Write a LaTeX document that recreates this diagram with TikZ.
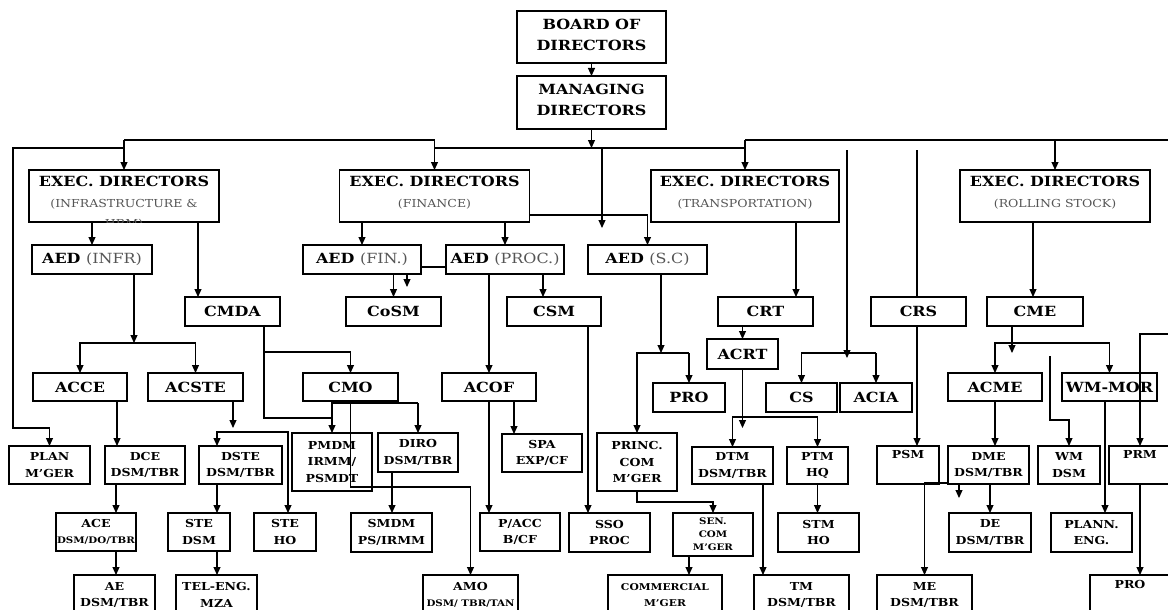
\documentclass[tikz,border=0pt]{standalone}
\usepackage{fontspec}
\setmainfont{DejaVu Serif}[FakeStretch=1.14]
\usetikzlibrary{arrows.meta}
\definecolor{subgray}{HTML}{555555}
\newcommand\subt[1]{{\fontsize{11}{21}\selectfont\mdseries\color{subgray}#1}}
\newcommand\aedp[1]{{\mdseries\color{subgray}#1}}
\newcommand\tnyline[1]{{\fontsize{9}{13}\selectfont#1}}
\begin{document}
\begin{tikzpicture}[x=1pt,y=-1pt,
    box/.style={draw,line width=1.1pt,inner sep=0pt,outer sep=0pt,align=center},
    sz/.style 2 args={minimum width=#1,minimum height=#2},
    big/.style={box,font=\fontsize{14}{21}\selectfont\bfseries},
    sml/.style={box,font=\fontsize{11}{16.5}\selectfont\bfseries},
    tny/.style={box,font=\fontsize{9}{13}\selectfont\bfseries},
    exec/.style={big,sz={190}{52},text depth=8.5pt},
    ln/.style={line width=1.1pt},
    arr/.style={ln,-{Triangle[length=8pt,width=7pt]}}
]
\useasboundingbox (0,0) rectangle (1168,610);
\clip (0,0) rectangle (1168,610);

% top
\node[big,sz={149}{52},text depth=5pt] (board) at (591.5,37) {BOARD OF\\DIRECTORS};
\node[big,sz={149}{53},text depth=5pt] (md) at (591.5,102.5) {MANAGING\\DIRECTORS};

% executive directors
\node[exec] (exinf) at (124,196) {EXEC. DIRECTORS\\\subt{(INFRASTRUCTURE \&}};
\begin{scope}
  \clip (exinf.north west) rectangle (exinf.south east);
  \node[font=\fontsize{11}{21}\selectfont,text=subgray,inner sep=0pt] (hrm) at (124,224) {HRM)};
\end{scope}
\node[exec] (exfin) at (434.5,196) {EXEC. DIRECTORS\\\subt{(FINANCE)}};
\node[exec,sz={188}{52}] (extra) at (745,196) {EXEC. DIRECTORS\\\subt{(TRANSPORTATION)}};
\node[exec] (exrs) at (1055,196) {EXEC. DIRECTORS\\\subt{(ROLLING STOCK)}};

% AED row
\node[big,sz={120}{29}] (aedinf) at (92,259.5) {AED \aedp{(INFR)}};
\node[big,sz={118}{29}] (aedfin) at (362,259.5) {AED \aedp{(FIN.)}};
\node[big,sz={118}{29}] (aedproc) at (505,259.5) {AED \aedp{(PROC.)}};
\node[big,sz={119}{29}] (aedsc) at (647.5,259.5) {AED \aedp{(S.C)}};

% chief row
\node[big,sz={95}{29}] (cmda) at (232.5,311.5) {CMDA};
\node[big,sz={95}{29}] (cosm) at (393.5,311.5) {CoSM};
\node[big,sz={94}{29}] (csm) at (554,311.5) {CSM};
\node[big,sz={95}{29}] (crt) at (765.5,311.5) {CRT};
\node[big,sz={95}{29}] (crs) at (918.5,311.5) {CRS};
\node[big,sz={96}{29}] (cme) at (1035,311.5) {CME};
\node[big,sz={71}{30}] (acrt) at (742.5,354) {ACRT};

% assistant row
\node[big,sz={94}{28}] (acce) at (80,387) {ACCE};
\node[big,sz={95}{28}] (acste) at (195.5,387) {ACSTE};
\node[big,sz={95}{28}] (cmo) at (350.5,387) {CMO};
\node[big,sz={94}{28}] (acof) at (489,387) {ACOF};
\node[big,sz={72}{29}] (pro1) at (689,397.5) {PRO};
\node[big,sz={71}{29}] (cs) at (801.5,397.5) {CS};
\node[big,sz={72}{29}] (acia) at (876,397.5) {ACIA};
\node[big,sz={94}{28}] (acme) at (995,387) {ACME};
\node[big,sz={95}{28}] (wmmor) at (1109.5,387) {WM-MOR};

% divisional row
\node[sml,sz={81}{38}] (plan) at (49.5,465) {PLAN\\M'GER};
\node[sml,sz={80}{38}] (dce) at (145,465) {DCE\\DSM/TBR};
\node[sml,sz={83}{38}] (dste) at (240.5,465) {DSTE\\DSM/TBR};
\node[sml,sz={80}{58}] (pmdm) at (332,462) {PMDM\\IRMM/\\PSMDT};
\node[sml,sz={80}{39}] (diro) at (418,452.5) {DIRO\\DSM/TBR};
\node[sml,sz={80}{38}] (spa) at (542,453) {SPA\\EXP/CF};
\node[sml,sz={80}{58}] (princ) at (637,462) {PRINC.\\COM\\M'GER};
\node[sml,sz={81}{37}] (dtm) at (732.5,465.5) {DTM\\DSM/TBR};
\node[sml,sz={61}{37}] (ptm) at (817.5,465.5) {PTM\\HQ};
\node[sml,sz={62}{38}] (psm) at (908,465) {PSM\\\strut};
\node[sml,sz={81}{38}] (dme) at (988.5,465) {DME\\DSM/TBR};
\node[sml,sz={62}{38}] (wmdsm) at (1069,465) {WM\\DSM};
\node[sml,sz={62}{38}] (prm) at (1140,465) {PRM\\\strut};

% sub-divisional row
\node[sml,sz={80}{38}] (ace) at (96,532) {ACE\\\tnyline{DSM/DO/TBR}};
\node[sml,sz={62}{38}] (stedsm) at (199,532) {STE\\DSM};
\node[sml,sz={62}{38}] (steho) at (285,532) {STE\\HO};
\node[sml,sz={81}{39}] (smdm) at (391.5,532.5) {SMDM\\PS/IRMM};
\node[sml,sz={80}{38}] (pacc) at (520,532) {P/ACC\\B/CF};
\node[sml,sz={81}{39}] (sso) at (609.5,532.5) {SSO\\PROC};
\node[tny,sz={80}{43}] (sen) at (713,534.5) {SEN.\\COM\\M'GER};
\node[sml,sz={81}{39}] (stm) at (818.5,532.5) {STM\\HO};
\node[sml,sz={82}{39}] (de) at (990,532.5) {DE\\DSM/TBR};
\node[sml,sz={81}{39}] (plann) at (1091.5,532.5) {PLANN.\\ENG.};

% bottom row
\node[sml,sz={81}{40}] (ae) at (114.5,595) {AE\\DSM/TBR};
\node[sml,sz={81}{40}] (teleng) at (216.5,595) {TEL-ENG.\\MZA};
\node[sml,sz={95}{40}] (amo) at (470.5,595) {AMO\\\tnyline{DSM/ TBR/TAN}};
\node[sml,sz={114}{40},font=\fontsize{9.4}{16.5}\selectfont\bfseries] (comm) at (665,595) {COMMERCIAL\\M'GER};
\node[sml,sz={95}{40}] (tm) at (801.5,595) {TM\\DSM/TBR};
\node[sml,sz={95}{40}] (me) at (924.5,595) {ME\\DSM/TBR};
\node[sml,sz={80}{40}] (pro2) at (1130,595) {PRO\\\strut};

% free ends
\coordinate (busA) at (0,140);
\coordinate (busB) at (0,148);
\coordinate (lftTop) at (13,148);
\coordinate (lftBot) at (13,428);
\coordinate (rgtA) at (1180,140);
\coordinate (rgtB) at (1180,334);
\coordinate (scTop) at (602,148);
\coordinate (scTip) at (602,228);
\coordinate (csTop) at (847,150);
\coordinate (csTip) at (847,358);
\coordinate (crsTop) at (917,150);
\coordinate (finTip) at (407,287);
\coordinate (dmeTip) at (959,498);
\coordinate (wmTop) at (1050,356);

% board and buses
\draw[arr] (board) -- (md);
\draw[arr] (md) -- (md.south |- busB);
\draw[arr] (busA -| exinf.north) -- (exinf.north);
\draw[arr] (busA -| exinf.north) -- (busA -| exfin.north) -- (exfin.north);
\draw[arr] (busA -| extra.north) -- (extra.north);
\draw[arr] (busA -| exrs.north) -- (exrs.north);
\draw[ln] (busA -| extra.north) -- (rgtA);
\draw[arr] (busB -| exinf.north) -- (lftTop) -- (lftBot) -| (plan.north);
\draw[ln] (busB -| exfin.north) -- (busB -| extra.north);
\draw[arr] (scTop) -- (scTip);
\draw[arr] (csTop) -- (csTip);
\draw[ln] (crsTop) -- (crs.north -| crsTop);
\draw[arr] (crs.south -| crsTop) -- (psm.north -| crsTop);

% infrastructure
\draw[arr] (exinf.south -| aedinf.north) -- (aedinf.north);
\draw[arr] (exinf.south -| 198,0) -- (cmda.north -| 198,0);
\draw[arr] (aedinf.south -| 134,0) -- (134,343);
\draw[arr] (acste.north |- 0,343) -| (acce.north);
\draw[arr] (acste.north |- 0,343) -- (acste.north);
\draw[arr] (acce.south -| 117,0) -- (dce.north -| 117,0);
\draw[arr] (acste.south -| 233,0) -- (233,428);
\draw[arr] (217,432) -| (steho.north -| 288,0);
\draw[arr] (288,432) -| (dste.north -| 217,0);
\draw[arr] (dce.south -| 116,0) -- (ace.north -| 116,0);
\draw[arr] (ace.south -| 116,0) -- (ae.north -| 116,0);
\draw[arr] (dste.south -| 217,0) -- (stedsm.north -| 217,0);
\draw[arr] (stedsm.south -| 217,0) -- (teleng.north -| 217,0);

% CMDA and CMO
\draw[ln] (cmda.south -| 264,0) -- (264,418) -- (332,418);
\draw[arr] (264,352) -| (cmo.north);
\draw[arr] (diro.north |- 0,403) -| (pmdm.north);
\draw[arr] (diro.north |- 0,403) -- (diro.north);
\draw[arr] (cmo.south) -- (cmo.south |- 0,487) -| (amo.north);
\draw[arr] (diro.south -| 392,0) -- (smdm.north -| 392,0);

% finance
\draw[arr] (exfin.south -| aedfin.north) -- (aedfin.north);
\draw[arr] (exfin.south -| aedproc.north) -- (aedproc.north);
\draw[ln] (aedfin.east |- 0,267) -- (aedproc.west |- 0,267);
\draw[arr] (aedfin.south -| cosm.north) -- (cosm.north);
\draw[arr] (aedfin.south -| finTip) -- (finTip);
\draw[arr] (aedproc.south -| 543,0) -- (csm.north -| 543,0);
\draw[arr] (aedproc.south -| acof.north) -- (acof.north);
\draw[arr] (acof.south -| 514,0) -- (spa.north -| 514,0);
\draw[arr] (acof.south) -- (pacc.north -| acof.south);
\draw[arr] (csm.south -| 588,0) -- (sso.north -| 588,0);
\draw[arr] (exfin.east |- 0,215) -| (aedsc.north);

% stores and commercial
\draw[arr] (aedsc.south -| 661,0) -- (661,353);
\draw[arr] (pro1.north |- 0,353) -| (princ.north);
\draw[arr] (pro1.north |- 0,353) -- (pro1.north);
\draw[arr] (princ.south) -- (princ.south |- 0,502) -| (sen.north);
\draw[arr] (sen.south -| 689,0) -- (comm.north -| 689,0);

% transportation
\draw[arr] (extra.south -| 796,0) -- (crt.north -| 796,0);
\draw[arr] (crt.south -| acrt.north) -- (acrt.north);
\draw[arr] (acrt.south) -- (acrt.south |- 0,428);
\draw[arr] (ptm.north |- 0,417) -| (dtm.north);
\draw[arr] (ptm.north |- 0,417) -- (ptm.north);
\draw[arr] (ptm.south) -- (stm.north -| ptm.south);
\draw[arr] (dtm.south -| 763,0) -- (tm.north -| 763,0);
\draw[arr] (acia.north |- 0,353) -| (cs.north);
\draw[arr] (acia.north |- 0,353) -- (acia.north);

% rolling stock
\draw[arr] (exrs.south -| 1033,0) -- (cme.north -| 1033,0);
\draw[arr] (cme.south -| 1012,0) -- (1012,353);
\draw[arr] (wmmor.north |- 0,343) -| (acme.north);
\draw[arr] (wmmor.north |- 0,343) -- (wmmor.north);
\draw[arr] (wmTop) |- (wmdsm.north |- 0,420) -- (wmdsm.north);
\draw[arr] (acme.south) -- (dme.north -| acme.south);
\draw[arr] (dme.south -| de.north) -- (de.north);
\draw[arr] (dme.south -| dmeTip) -- (dmeTip);
\draw[arr] (dme.west |- 0,483) -| (me.north);
\draw[arr] (wmmor.south -| 1105,0) -- (plann.north -| 1105,0);
\draw[arr] (rgtB) -| (prm.north);
\draw[arr] (prm.south) -- (pro2.north -| prm.south);
\end{tikzpicture}
\end{document}
